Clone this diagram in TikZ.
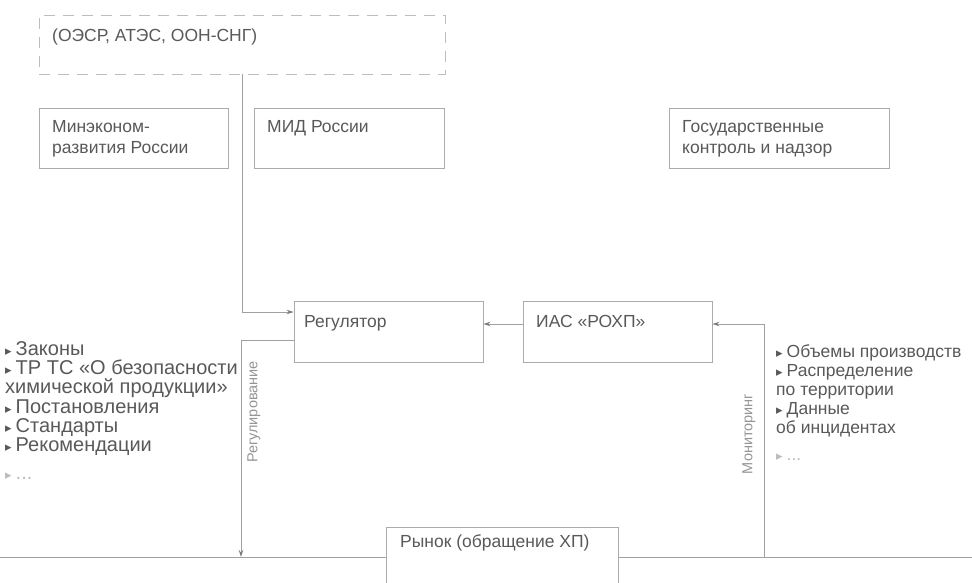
\documentclass[tikz,border=0pt]{standalone}
\usepackage{fontspec}
\setmainfont{Liberation Sans}
\newfontfamily\bulletfont{DejaVu Sans}
\usetikzlibrary{arrows.meta}
\definecolor{txt}{HTML}{595959}
\definecolor{ln}{HTML}{A0A0A0}
\definecolor{bx}{HTML}{ABABAB}
\definecolor{faint}{HTML}{BDBDBD}
\definecolor{lbl}{HTML}{959595}
\definecolor{tipc}{HTML}{7C7C7C}
\newcommand{\bl}{{\bulletfont\fontsize{13}{13}\selectfont ▸}\hspace{4pt}}
\begin{document}
\begin{tikzpicture}[x=1pt,y=-1pt,
  box/.style={draw=bx,line width=0.9pt,inner sep=0pt,fill=white},
  dbox/.style={draw=faint,line width=0.9pt,inner sep=0pt,dash pattern=on 11pt off 8pt},
  conn/.style={draw=ln,line width=0.9pt},
  arr/.style={conn,-{Stealth[length=7pt,width=4.5pt,color=tipc]}},
  tx/.style={anchor=base west,inner sep=0pt,text=txt,font=\fontsize{17.5}{21}\selectfont},
  ltx/.style={tx,font=\fontsize{20}{20}\selectfont},
  ftx/.style={tx,text=faint},
  lftx/.style={ltx,text=faint},
  rlbl/.style={inner sep=0pt,text=lbl,rotate=90,font=\fontsize{14.5}{16}\selectfont}]
\useasboundingbox[fill=white] (0,0) rectangle (972,582);

% boxes
\node[dbox,minimum width=406pt,minimum height=59pt] (intl) at (242,44.5) {};
\node[box,minimum width=189pt,minimum height=60pt] (mer) at (133.5,138) {};
\node[box,minimum width=190pt,minimum height=60pt] (mid) at (349,138) {};
\node[box,minimum width=220pt,minimum height=60pt] (gos) at (779,138) {};
\node[box,minimum width=189pt,minimum height=61pt] (reg) at (388.5,331.5) {};
\node[box,minimum width=189pt,minimum height=61pt] (ias) at (617.5,331.5) {};

% box texts
\node[tx] (t0) at (52,41) {(ОЭСР, АТЭС, ООН-СНГ)};
\node[tx] (t1a) at (52,132) {Минэконом-};
\node[tx] (t1b) at (52,153) {развития России};
\node[tx] (t2) at (267,132) {МИД России};
\node[tx] (t3a) at (682,132) {Государственные};
\node[tx] (t3b) at (682,153) {контроль и надзор};
\node[tx] (t4) at (304,327) {Регулятор};
\node[tx] (t5) at (536,327) {ИАС «РОХП»};

% named levels
\coordinate (yIn) at (0,312);
\coordinate (yMid) at (0,324);
\coordinate (yOut) at (0,340);
\coordinate (L0) at (0,557);
\coordinate (R0) at (972,557);
\coordinate (regb) at (241,557);
\coordinate (mon) at (764,557);

% connectors
\draw[arr] (intl.south) |- (reg.west |- yIn);
\draw[arr] (ias.west |- yMid) -- (reg.east |- yMid);
\draw[arr] (mon) |- (ias.east |- yMid);
\draw[arr] (reg.west |- yOut) -| (regb);

% market
\draw[conn] (L0) -- (386,557) coordinate (mL);
\draw[conn] (618,557) coordinate (mR) -- (R0);
\node[box,minimum width=232pt,minimum height=70pt] (market) at (502,562) {};
\node[tx] (t6) at (400,547) {Рынок (обращение ХП)};

% rotated labels
\node[rlbl] (lreg) at (254,412) {Регулирование};
\node[rlbl] (lmon) at (749,434) {Мониторинг};

% left list
\node[ltx] (l1) at (5,355) {\bl Законы};
\node[ltx] (l2) at (5,374) {\bl ТР ТС «О безопасности};
\node[ltx] (l3) at (5,393) {химической продукции»};
\node[ltx] (l4) at (5,413) {\bl Постановления};
\node[ltx] (l5) at (5,432) {\bl Стандарты};
\node[ltx] (l6) at (5,451) {\bl Рекомендации};
\node[lftx] (l7) at (5,479) {\bl ...};

% right list
\node[tx] (r1) at (776,357) {\bl Объемы производств};
\node[tx] (r2) at (776,376) {\bl Распределение};
\node[tx] (r3) at (776,395) {по территории};
\node[tx] (r4) at (776,414) {\bl Данные};
\node[tx] (r5) at (776,433) {об инцидентах};
\node[ftx] (r6) at (776,460) {\bl ...};
\end{tikzpicture}
\end{document}
